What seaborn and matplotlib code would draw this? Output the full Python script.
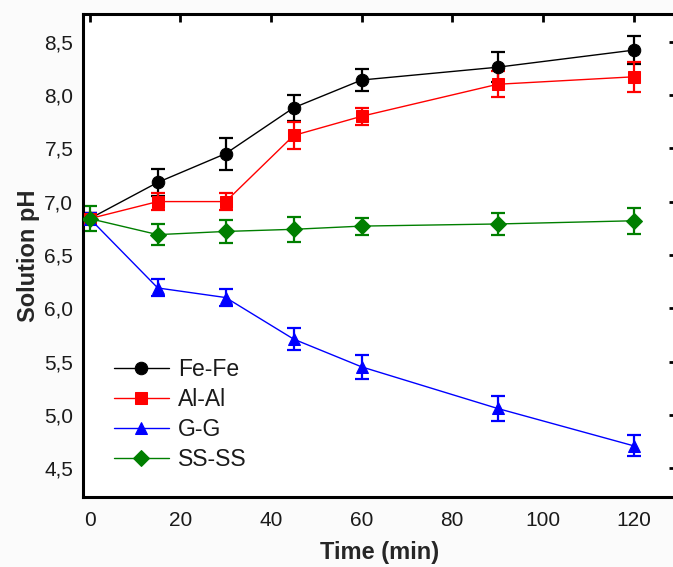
import numpy as np
import pandas as pd
import matplotlib
matplotlib.use("Agg")
import matplotlib.pyplot as plt
from matplotlib.ticker import FuncFormatter, MultipleLocator
import seaborn as sns

# Sampling times (min)
time_min = [0, 15, 30, 45, 60, 90, 120]

# Solution pH per electrode pair
ph_fe = [6.84, 7.18, 7.45, 7.88, 8.14, 8.26, 8.42]
ph_al = [6.84, 7.00, 7.00, 7.62, 7.80, 8.10, 8.17]
ph_g = [6.84, 6.19, 6.10, 5.71, 5.45, 5.06, 4.71]
ph_ss = [6.84, 6.69, 6.72, 6.74, 6.77, 6.79, 6.82]

# Standard deviations
err_fe = [0.05, 0.13, 0.15, 0.12, 0.10, 0.14, 0.13]
err_al = [0.05, 0.08, 0.08, 0.13, 0.08, 0.12, 0.14]
err_g = [0.05, 0.08, 0.08, 0.10, 0.11, 0.12, 0.10]
err_ss = [0.12, 0.10, 0.11, 0.12, 0.08, 0.10, 0.12]

series_names = ["Fe-Fe", "Al-Al", "G-G", "SS-SS"]
series_colors = ["#000000", "#ff0000", "#0000ff", "#007f00"]
series_markers = ["o", "s", "^", "D"]
marker_sizes = [9, 8, 9, 8]

values = [ph_fe, ph_al, ph_g, ph_ss]
errors = [err_fe, err_al, err_g, err_ss]

df = pd.concat(
    [pd.DataFrame({"Time": time_min, "pH": v, "err": e, "Pair": n})
     for n, v, e in zip(series_names, values, errors)],
    ignore_index=True,
)

sns.set_theme(style="white")
plt.rcParams["font.family"] = ["Liberation Sans", "DejaVu Sans"]
plt.rcParams["text.color"] = "#1a1a1a"

fig = plt.figure(figsize=(6.73, 5.67), dpi=100)
fig.patch.set_facecolor("#fbfbfb")
ax = fig.add_axes([0.1233, 0.1235, 0.882, 0.852])
ax.set_facecolor("white")

for name, color, marker, ms in zip(series_names, series_colors, series_markers, marker_sizes):
    sub = df[df["Pair"] == name]
    ax.errorbar(sub["Time"], sub["pH"], yerr=sub["err"], fmt="none",
                ecolor=color, elinewidth=1.6, capsize=5, capthick=1.6, zorder=2)
    sns.lineplot(data=sub, x="Time", y="pH", ax=ax, color=color, marker=marker,
                 markersize=ms, markeredgecolor=color, linewidth=1.0,
                 label=name, zorder=3, errorbar=None)

ax.set_xlim(-1.5, 129.5)
ax.set_ylim(4.23, 8.76)
ax.xaxis.set_major_locator(MultipleLocator(20))
ax.yaxis.set_major_locator(MultipleLocator(0.5))
ax.yaxis.set_major_formatter(FuncFormatter(lambda v, p: f"{v:.1f}".replace(".", ",")))

ax.tick_params(axis="both", which="major", direction="in", length=6, width=2,
               labelsize=15, colors="black", labelcolor="#1a1a1a",
               top=True, right=True)
ax.tick_params(axis="y", pad=7)
ax.tick_params(axis="x", pad=10)
for s in ax.spines.values():
    s.set_linewidth(2.2)
    s.set_color("black")

ax.set_xlabel("Time (min)", fontsize=17, fontweight="bold", labelpad=8)
ax.set_ylabel("Solution pH", fontsize=17, fontweight="bold", labelpad=3)

leg = ax.legend(loc="lower left", bbox_to_anchor=(0.017, 0.011), frameon=False,
                fontsize=16.5, handlelength=2.4, handletextpad=0.4, labelspacing=0.3)

fig.savefig("out.png", dpi=100, facecolor=fig.get_facecolor())
